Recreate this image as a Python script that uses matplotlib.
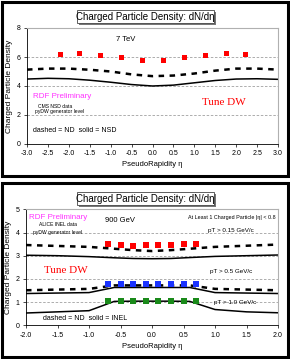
import matplotlib.pyplot as plt
from matplotlib.patches import Rectangle

plt.rcParams['font.family'] = ['Liberation Sans', 'DejaVu Sans']

# -----------------------------
# Data: top panel (7 TeV)
# -----------------------------
eta_cms = [-2.2, -1.75, -1.25, -0.75, -0.25, 0.25, 0.75, 1.25, 1.75, 2.2]
dn_cms = [6.20, 6.27, 6.14, 6.02, 5.82, 5.82, 6.02, 6.16, 6.27, 6.20]

eta_line7 = [-3.0, -2.5, -2.0, -1.5, -1.0, -0.5, 0.0, 0.5, 1.0, 1.5, 2.0, 2.5, 3.0]
nd_7tev = [5.13, 5.20, 5.20, 5.12, 5.00, 4.80, 4.68, 4.72, 4.86, 5.06, 5.20, 5.20, 5.13]
nsd_7tev = [4.48, 4.53, 4.50, 4.40, 4.26, 4.10, 4.00, 4.06, 4.22, 4.38, 4.48, 4.50, 4.46]

# -----------------------------
# Data: bottom panel (900 GeV)
# -----------------------------
eta_alice = [-0.7, -0.5, -0.3, -0.1, 0.1, 0.3, 0.5, 0.7]
dn_pt015 = [3.50, 3.45, 3.42, 3.44, 3.48, 3.45, 3.50, 3.52]
dn_pt05 = [1.78, 1.77, 1.77, 1.78, 1.78, 1.77, 1.77, 1.78]
dn_pt10 = [1.04, 1.05, 1.04, 1.05, 1.06, 1.05, 1.05, 1.04]

eta_line9 = [-2.0, -1.5, -1.0, -0.6, -0.3, 0.0, 0.3, 0.6, 1.0, 1.5, 2.0]
nd_pt015 = [3.46, 3.42, 3.38, 3.30, 3.24, 3.20, 3.24, 3.30, 3.38, 3.43, 3.48]
inel_pt015 = [3.02, 3.00, 2.96, 2.91, 2.88, 2.87, 2.88, 2.92, 2.97, 3.00, 3.03]
nd_pt05 = [1.51, 1.54, 1.57, 1.72, 1.72, 1.72, 1.72, 1.72, 1.57, 1.54, 1.51]
inel_pt05 = [1.37, 1.39, 1.41, 1.63, 1.63, 1.63, 1.63, 1.63, 1.41, 1.39, 1.37]
inel_pt10 = [0.53, 0.58, 0.63, 1.03, 1.04, 1.04, 1.04, 1.03, 0.68, 0.58, 0.54]

W, H = 290, 359
fig = plt.figure(figsize=(W / 100, H / 100), dpi=100)


def fx(px):
    return px / W


def fy(py):
    return 1 - py / H


def style_axes(ax):
    for s in ["top", "right"]:
        ax.spines[s].set_color("#b0b0b0")
        ax.spines[s].set_linewidth(0.8)
    for s in ["left", "bottom"]:
        ax.spines[s].set_color("black")
        ax.spines[s].set_linewidth(0.6)
    ax.tick_params(labelsize=5, length=2.5, width=0.5, pad=2)
    ax.set_xlabel("PseudoRapidity η", fontsize=5.5, labelpad=3)
    ax.set_ylabel("Charged Particle Density", fontsize=6, labelpad=3)


def title_box(y0, y1):
    fig.patches.append(Rectangle((fx(79), fy(y1 + 2)), fx(214 - 77), (y1 - y0) / H,
                                 transform=fig.transFigure, facecolor="#777777",
                                 edgecolor="none"))
    fig.patches.append(Rectangle((fx(77), fy(y1)), fx(214 - 77), (y1 - y0) / H,
                                 transform=fig.transFigure, facecolor="white",
                                 edgecolor="#444444", linewidth=0.6))
    fig.text(fx(145.5), fy((y0 + y1) / 2), "Charged Particle Density: dN/dη",
             fontsize=7, ha="center", va="center")


# panel frames
for y0, y1 in [(2, 176), (183, 357)]:
    fig.patches.append(Rectangle((fx(2), fy(y1)), fx(286), (y1 - y0) / H,
                                 transform=fig.transFigure, facecolor="none",
                                 edgecolor="black", linewidth=2.2))

dash = (0, (2.2, 2.2))

# -----------------------------
# Top panel
# -----------------------------
ax1 = fig.add_axes([fx(27), fy(144), fx(251), 116 / H])
ax1.set_xlim(-3, 3)
ax1.set_ylim(0, 8)
ax1.set_xticks([-3, -2.5, -2, -1.5, -1, -0.5, 0, 0.5, 1, 1.5, 2, 2.5, 3])
ax1.set_xticklabels([f"{v:.1f}" for v in ax1.get_xticks()])
ax1.set_yticks([0, 2, 4, 6, 8])
for v in [2, 4, 6]:
    ax1.axhline(v, color="#a0a0a0", linestyle=(0, (3, 2)), linewidth=0.6, zorder=0)
ax1.plot(eta_line7, nd_7tev, color="black", linestyle=dash, linewidth=1.8)
ax1.plot(eta_line7, nsd_7tev, color="black", linewidth=1.1)
ax1.plot(eta_cms, dn_cms, "s", color="red", markersize=3.6, markeredgewidth=0)
style_axes(ax1)

ax1.text(-0.64, 7.2, "7 TeV", fontsize=5.5, ha="center", va="center")
ax1.text(-2.86, 3.3, "RDF Preliminary", fontsize=5.8, color="#ff33ff", va="center")
ax1.text(-2.74, 2.6, "CMS NSD data", fontsize=3.6, va="center")
ax1.text(-2.81, 2.25, "pyDW generator level", fontsize=3.6, va="center")
ax1.text(-2.86, 0.95, "dashed = ND  solid = NSD", fontsize=5, va="center")
ax1.text(1.19, 2.83, "Tune DW", fontsize=8, color="red", va="center",
         family=["Liberation Serif", "DejaVu Serif"])
title_box(10, 23)

# -----------------------------
# Bottom panel
# -----------------------------
ax2 = fig.add_axes([fx(26), fy(325.3), fx(252), 116 / H])
ax2.set_xlim(-2, 2)
ax2.set_ylim(0, 5)
ax2.set_xticks([-2, -1.5, -1, -0.5, 0, 0.5, 1, 1.5, 2])
ax2.set_xticklabels([f"{v:.1f}" for v in ax2.get_xticks()])
ax2.set_yticks([0, 1, 2, 3, 4, 5])
for v in [1, 2, 3, 4]:
    ax2.axhline(v, color="#a0a0a0", linestyle=(0, (3, 2)), linewidth=0.6, zorder=0)
ax2.plot(eta_line9, nd_pt015, color="black", linestyle=dash, linewidth=1.8)
ax2.plot(eta_line9, inel_pt015, color="black", linewidth=1.1)
ax2.plot(eta_line9, nd_pt05, color="black", linestyle=dash, linewidth=1.8)
ax2.plot(eta_line9, inel_pt05, color="black", linewidth=1.1)
ax2.plot(eta_line9, inel_pt10, color="black", linewidth=1.1)
ax2.plot(eta_alice, dn_pt015, "s", color="red", markersize=3.8, markeredgewidth=0)
ax2.plot(eta_alice, dn_pt05, "s", color="#1a33ff", markersize=3.8, markeredgewidth=0)
ax2.plot(eta_alice, dn_pt10, "s", color="#1a8a1a", markersize=3.8, markeredgewidth=0)
style_axes(ax2)

ax2.text(-1.95, 4.65, "RDF Preliminary", fontsize=5.8, color="#ff33ff", va="center")
ax2.text(-1.79, 4.33, "ALICE INEL data", fontsize=3.6, va="center")
ax2.text(-1.89, 4.0, "pyDW generator level", fontsize=3.6, va="center")
ax2.text(-0.51, 4.5, "900 GeV", fontsize=5.5, ha="center", va="center")
ax2.text(0.57, 4.65, "At Least 1 Charged Particle |η| < 0.8", fontsize=3.9, va="center")
ax2.text(0.89, 4.08, "pT > 0.15 GeV/c", fontsize=4.5, va="center")
ax2.text(0.92, 2.3, "pT > 0.5 GeV/c", fontsize=4.5, va="center")
ax2.text(0.98, 0.98, "pT > 1.0 GeV/c", fontsize=4.5, va="center")
ax2.text(-1.71, 2.35, "Tune DW", fontsize=8, color="red", va="center",
         family=["Liberation Serif", "DejaVu Serif"])
ax2.text(-1.73, 0.3, "dashed = ND  solid = INEL", fontsize=5, va="center")
title_box(192, 205)

plt.savefig("out.png", dpi=100)
plt.close()
